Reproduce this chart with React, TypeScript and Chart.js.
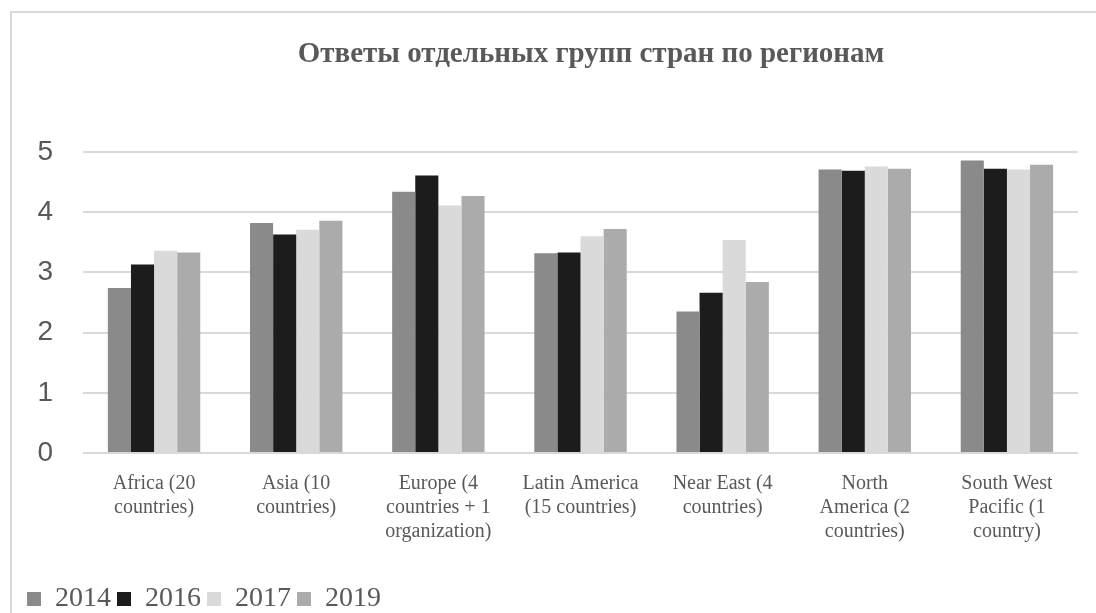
import React, { useEffect, useRef } from "react";
import { Chart, registerables } from "chart.js";

Chart.register(...registerables);

const chartTitle = "Ответы отдельных групп стран по регионам";
const categories: string[][] = [
  ["Africa (20", "countries)"],
  ["Asia (10", "countries)"],
  ["Europe (4", "countries + 1", "organization)"],
  ["Latin America", "(15 countries)"],
  ["Near East (4", "countries)"],
  ["North", "America (2", "countries)"],
  ["South West", "Pacific (1", "country)"],
];
const seriesNames = ["2014", "2016", "2017", "2019"];
const values2014 = [2.74, 3.82, 4.34, 3.32, 2.35, 4.71, 4.86];
const values2016 = [3.13, 3.63, 4.61, 3.33, 2.66, 4.69, 4.72];
const values2017 = [3.36, 3.71, 4.11, 3.6, 3.54, 4.76, 4.71];
const values2019 = [3.33, 3.86, 4.27, 3.72, 2.84, 4.72, 4.79];
const seriesColors = ["#8a8a8a", "#1c1c1c", "#dadada", "#ababab"];
const yMin = 0;
const yMax = 5;
const yStep = 1;

const TEXT = "#595959";
const SERIF = "'Liberation Serif', 'Times New Roman', serif";
const SANS = "'Liberation Sans', Arial, sans-serif";

export default function App() {
  const ref = useRef<HTMLCanvasElement | null>(null);

  useEffect(() => {
    const canvas = ref.current;
    if (!canvas) return;
    const allValues = [values2014, values2016, values2017, values2019];

    const titlePlugin = {
      id: "customTitle",
      afterDraw(chart: any) {
        const ctx = chart.ctx;
        ctx.save();
        ctx.font = `bold 29px ${SERIF}`;
        ctx.fillStyle = TEXT;
        ctx.textAlign = "center";
        ctx.textBaseline = "middle";
        ctx.fillText(chartTitle, 591, 55);
        ctx.restore();
      },
    };

    const chart = new Chart(canvas, {
      type: "bar",
      data: {
        labels: categories,
        datasets: seriesNames.map((name, i) => ({
          label: name,
          data: allValues[i],
          backgroundColor: seriesColors[i],
          borderWidth: 0,
          categoryPercentage: 0.65,
          barPercentage: 1.0,
        })),
      },
      options: {
        animation: false,
        responsive: false,
        maintainAspectRatio: false,
        devicePixelRatio: 1,
        layout: { padding: { left: 21, right: 18, top: 152, bottom: 0 } },
        plugins: {
          title: { display: false },
          tooltip: { enabled: false },
          legend: {
            display: true,
            position: "bottom",
            align: "start",
            labels: {
              boxWidth: 14,
              boxHeight: 14,
              padding: 6,
              color: TEXT,
              font: { family: SERIF, size: 28 },
            },
          },
        },
        scales: {
          x: {
            grid: { display: false },
            border: { display: false },
            ticks: {
              color: TEXT,
              font: { family: SERIF, size: 20, lineHeight: 1.2 },
              padding: 11,
              maxRotation: 0,
              autoSkip: false,
            },
            afterFit: (scale: any) => {
              scale.height = 126;
            },
          },
          y: {
            min: yMin,
            max: yMax,
            grid: { color: "#d9d9d9", lineWidth: 2, drawTicks: false },
            border: { display: false },
            ticks: {
              stepSize: yStep,
              color: TEXT,
              font: { family: SANS, size: 28 },
              padding: 30,
            },
            afterFit: (scale: any) => {
              scale.width = 62;
            },
          },
        },
      },
      plugins: [titlePlugin],
    });
    return () => chart.destroy();
  }, []);

  return (
    <div
      style={{
        position: "fixed",
        left: 0,
        top: 0,
        width: 1096,
        height: 613,
        overflow: "hidden",
        background: "#ffffff",
      }}
    >
      <div
        style={{
          position: "absolute",
          left: 10,
          top: 11,
          width: 1200,
          height: 700,
          border: "2px solid #d9d9d9",
          boxSizing: "border-box",
        }}
      />
      <canvas
        ref={ref}
        width={1096}
        height={623}
        style={{ position: "absolute", left: 0, top: 0 }}
      />
    </div>
  );
}
